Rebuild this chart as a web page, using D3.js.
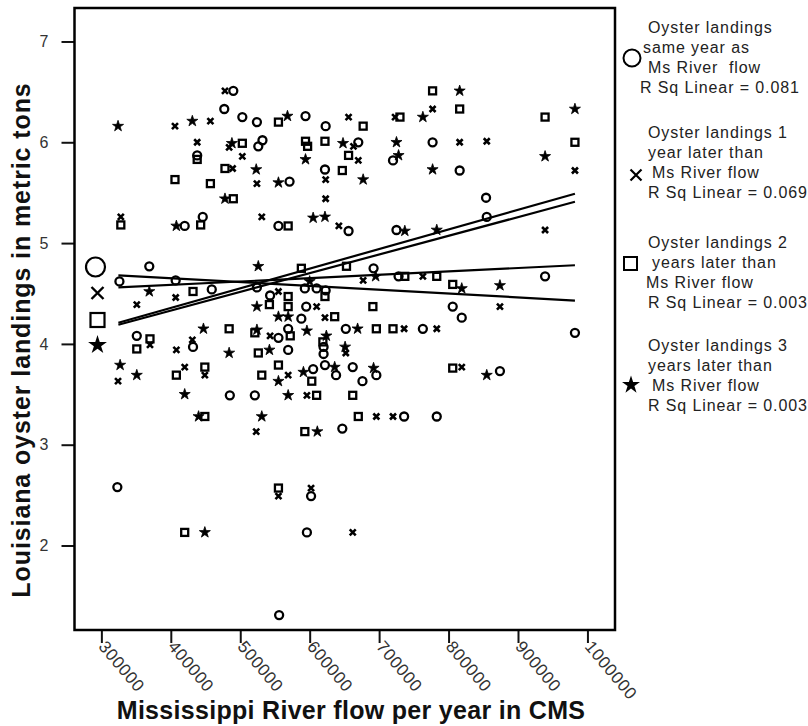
<!DOCTYPE html>
<html>
<head>
<meta charset="utf-8">
<script src="https://cdn.jsdelivr.net/npm/d3@7"></script>
<style>
  body { margin: 0; background: #fff; }
  svg { font-family: "Liberation Sans", Arial, sans-serif; }
</style>
</head>
<body>
<svg id="chart" width="808" height="726"></svg>
<script>
// flow (CMS), landings (metric tons, log scale as printed)
var sameYear = [[490000,6.51],[477000,6.33],[503000,6.25],[524000,6.20],[594000,6.26],[623000,6.16],[438000,5.87],[526000,5.96],[532000,6.02],[571000,5.61],[622000,5.73],[670000,6.00],[720000,5.82],[777000,6.00],[816000,5.72],[854000,5.45],[855000,5.26],[446000,5.26],[420000,5.17],[555000,5.17],[656000,5.12],[725000,5.13],[369000,4.77],[407000,4.63],[459000,4.54],[524000,4.56],[593000,4.55],[610000,4.55],[623000,4.53],[543000,4.48],[595000,4.37],[588000,4.25],[569000,4.15],[555000,4.06],[351000,4.08],[432000,3.97],[569000,3.94],[620000,3.97],[620000,3.90],[605000,3.75],[622000,3.79],[638000,3.69],[485000,3.49],[521000,3.49],[692000,4.75],[728000,4.67],[939000,4.67],[806000,4.37],[819000,4.26],[982000,4.11],[652000,4.15],[763000,4.15],[662000,3.77],[696000,3.69],[676000,3.63],[874000,3.73],[736000,3.28],[783000,3.28],[647000,3.16],[323000,2.58],[602000,2.49],[596000,2.13],[556000,1.31],[326000,4.62]];

var oneYearLater = [[478000,6.51],[406000,6.16],[457000,6.21],[438000,6.00],[484000,5.95],[503000,5.86],[489000,5.74],[524000,5.59],[623000,5.63],[623000,5.44],[656000,6.25],[663000,5.96],[670000,5.82],[723000,6.25],[777000,6.33],[816000,6.00],[855000,6.01],[982000,5.72],[328000,5.26],[531000,5.26],[642000,5.17],[939000,5.13],[351000,4.39],[407000,4.46],[555000,4.52],[610000,4.37],[622000,4.26],[543000,4.08],[370000,3.99],[431000,4.04],[408000,3.94],[324000,3.63],[420000,3.77],[449000,3.69],[569000,3.69],[596000,3.49],[677000,4.63],[763000,4.67],[874000,4.37],[736000,4.15],[783000,4.15],[652000,3.91],[819000,3.77],[696000,3.28],[720000,3.28],[523000,3.13],[555000,2.49],[602000,2.57],[662000,2.13]];

var twoYearsLater = [[555000,6.20],[438000,5.83],[503000,5.99],[594000,6.01],[597000,5.96],[622000,6.01],[478000,5.74],[406000,5.63],[457000,5.59],[490000,5.44],[647000,5.72],[677000,6.16],[656000,5.87],[730000,6.25],[777000,6.51],[816000,6.33],[939000,6.25],[982000,6.00],[328000,5.18],[443000,5.18],[569000,5.17],[432000,4.52],[588000,4.75],[622000,4.47],[542000,4.39],[569000,4.47],[569000,4.37],[636000,4.27],[484000,4.15],[521000,4.11],[572000,4.08],[370000,4.05],[351000,3.95],[526000,3.91],[619000,4.02],[408000,3.69],[449000,3.77],[531000,3.69],[555000,3.79],[603000,3.63],[610000,3.49],[449000,3.28],[593000,3.13],[653000,4.77],[737000,4.67],[783000,4.67],[806000,4.59],[691000,4.37],[696000,4.15],[720000,4.15],[806000,3.76],[662000,3.49],[670000,3.28],[555000,2.57],[420000,2.13]];

var threeYearsLater = [[324000,6.16],[431000,6.21],[568000,6.26],[488000,5.99],[594000,5.83],[523000,5.73],[555000,5.60],[478000,5.44],[605000,5.25],[622000,5.26],[648000,5.99],[677000,5.63],[763000,6.25],[816000,6.51],[728000,5.87],[777000,5.73],[982000,6.33],[939000,5.86],[725000,6.00],[408000,5.17],[737000,5.12],[783000,5.13],[369000,4.52],[526000,4.77],[600000,4.62],[524000,4.37],[555000,4.27],[569000,4.27],[447000,4.15],[524000,4.14],[596000,4.13],[624000,4.08],[484000,3.91],[542000,3.94],[327000,3.79],[351000,3.69],[555000,3.63],[591000,3.72],[636000,3.77],[420000,3.50],[569000,3.49],[440000,3.28],[531000,3.28],[611000,3.13],[695000,4.67],[819000,4.55],[874000,4.58],[669000,4.15],[651000,3.97],[692000,3.76],[855000,3.69],[449000,2.13]];

// fit lines: landings at the first and last flow
var fitFlow = [324500, 982000];
var fitSameYear = [4.21, 5.49];
var fitOneYear = [4.19, 5.41];
var fitTwoYears = [4.68, 4.43];
var fitThreeYears = [4.56, 4.78];

var xTicks = [300000, 400000, 500000, 600000, 700000, 800000, 900000, 1000000];
var yTicks = [2, 3, 4, 5, 6, 7];

var legendText = [
  ["Oyster landings", "same year as", "Ms River  flow", "R Sq Linear = 0.081"],
  ["Oyster landings 1", "year later than", "Ms River flow", "R Sq Linear = 0.069"],
  ["Oyster landings 2", "years later than", "Ms River flow", "R Sq Linear = 0.003"],
  ["Oyster landings 3", "years later than", "Ms River flow", "R Sq Linear = 0.003"]
];

var svg = d3.select("#chart"),
    margin = {top: 8, right: 193, bottom: 96, left: 74.5},
    width = +svg.attr("width") - margin.left - margin.right,
    height = +svg.attr("height") - margin.top - margin.bottom;

var x = d3.scaleLinear().domain([261300, 1039700]).range([0, width]),
    y = d3.scaleLinear().domain([1.162, 7.332]).range([height, 0]);

var g = svg.append("g")
    .attr("transform", "translate(" + margin.left + "," + margin.top + ")");

// axes
var yAxis = g.append("g")
    .call(d3.axisLeft(y).tickValues(yTicks).tickSize(13).tickPadding(13).tickFormat(d3.format("d")));
yAxis.select(".domain").remove();
yAxis.selectAll("line").attr("stroke", "#111").attr("stroke-width", 2);
yAxis.selectAll("text").attr("font-size", 16).attr("fill", "#333").attr("font-family", null);

var xAxis = g.append("g")
    .attr("transform", "translate(0," + height + ")")
    .call(d3.axisBottom(x).tickValues(xTicks).tickSize(13).tickFormat(d3.format("d")));
xAxis.select(".domain").remove();
xAxis.selectAll("line").attr("stroke", "#111").attr("stroke-width", 2);
xAxis.selectAll("text")
    .attr("font-size", 17)
    .attr("letter-spacing", 0.6)
    .attr("fill", "#333")
    .attr("font-family", null)
    .attr("text-anchor", "start")
    .attr("dy", null)
    .attr("y", 0)
    .attr("transform", "translate(-4,17) rotate(50)");

// frame
g.append("rect")
    .attr("width", width)
    .attr("height", height)
    .attr("fill", "none")
    .attr("stroke", "#000")
    .attr("stroke-width", 2.5);

// fit lines
[fitSameYear, fitOneYear, fitTwoYears, fitThreeYears].forEach(function(f) {
  g.append("line")
      .attr("x1", x(fitFlow[0])).attr("y1", y(f[0]))
      .attr("x2", x(fitFlow[1])).attr("y2", y(f[1]))
      .attr("stroke", "#000")
      .attr("stroke-width", 2.2);
});

// markers
var star = d3.symbol().type(d3.symbolStar);

g.selectAll(".pt-circle")
  .data(sameYear)
  .enter().append("circle")
    .attr("class", "pt-circle")
    .attr("cx", function(d) { return x(d[0]); })
    .attr("cy", function(d) { return y(d[1]); })
    .attr("r", 4)
    .attr("fill", "none")
    .attr("stroke", "#000")
    .attr("stroke-width", 2.3);

g.selectAll(".pt-cross")
  .data(oneYearLater)
  .enter().append("path")
    .attr("class", "pt-cross")
    .attr("transform", function(d) { return "translate(" + x(d[0]) + "," + y(d[1]) + ")"; })
    .attr("d", "M-3,-3L3,3M3,-3L-3,3")
    .attr("stroke", "#000")
    .attr("stroke-width", 2.6);

g.selectAll(".pt-square")
  .data(twoYearsLater)
  .enter().append("rect")
    .attr("class", "pt-square")
    .attr("x", function(d) { return x(d[0]) - 3.5; })
    .attr("y", function(d) { return y(d[1]) - 3.5; })
    .attr("width", 7)
    .attr("height", 7)
    .attr("fill", "none")
    .attr("stroke", "#000")
    .attr("stroke-width", 2.3);

g.selectAll(".pt-star")
  .data(threeYearsLater)
  .enter().append("path")
    .attr("class", "pt-star")
    .attr("transform", function(d) { return "translate(" + x(d[0]) + "," + y(d[1]) + ")"; })
    .attr("d", star.size(38))
    .attr("fill", "#000")
    .attr("stroke", "#000")
    .attr("stroke-width", 0.8);

// line markers at the left of the fits
var key = g.append("g").attr("transform", "translate(21,0)");
key.append("circle").attr("cx", 0).attr("cy", 259).attr("r", 9.5)
    .attr("fill", "none").attr("stroke", "#000").attr("stroke-width", 2.2);
key.append("path").attr("transform", "translate(2,285)").attr("d", "M-6,-6L6,6M6,-6L-6,6")
    .attr("stroke", "#000").attr("stroke-width", 2.4);
key.append("rect").attr("x", -5).attr("y", 305).attr("width", 14).attr("height", 14)
    .attr("fill", "none").attr("stroke", "#000").attr("stroke-width", 2.2);
key.append("path").attr("transform", "translate(2,337)").attr("d", d3.symbol().type(d3.symbolStar).size(110))
    .attr("fill", "#000");

// legend on the right
var legend = svg.append("g").attr("transform", "translate(615,0)");
var groupTop = [33, 138, 248, 351];
var lineIndent = [[33, 28, 33, 25], [33, 33, 37, 33], [33, 37, 31, 33], [33, 33, 37, 33]];

legendText.forEach(function(lines, i) {
  lines.forEach(function(t, j) {
    legend.append("text")
        .attr("x", lineIndent[i][j])
        .attr("y", groupTop[i] + j * 20)
        .attr("font-size", 16)
        .attr("letter-spacing", 0.9)
        .attr("fill", "#222")
        .attr("xml:space", "preserve")
        .text(t);
  });
});

legend.append("circle").attr("cx", 17).attr("cy", 58).attr("r", 8.5)
    .attr("fill", "none").attr("stroke", "#000").attr("stroke-width", 2);
legend.append("path").attr("transform", "translate(21,175)").attr("d", "M-5.5,-5.5L5.5,5.5M5.5,-5.5L-5.5,5.5")
    .attr("stroke", "#000").attr("stroke-width", 2.2);
legend.append("rect").attr("x", 9).attr("y", 257).attr("width", 13).attr("height", 13)
    .attr("fill", "none").attr("stroke", "#000").attr("stroke-width", 2);
legend.append("path").attr("transform", "translate(16,385)").attr("d", d3.symbol().type(d3.symbolStar).size(100))
    .attr("fill", "#000");

// axis titles
svg.append("text")
    .attr("transform", "translate(30,340) rotate(-90)")
    .attr("text-anchor", "middle")
    .attr("font-size", 25)
    .attr("letter-spacing", 0.9)
    .attr("font-weight", "bold")
    .attr("fill", "#111")
    .text("Louisiana oyster landings in metric tons");

svg.append("text")
    .attr("x", 351)
    .attr("y", 719)
    .attr("text-anchor", "middle")
    .attr("font-size", 25)
    .attr("letter-spacing", 0.3)
    .attr("font-weight", "bold")
    .attr("fill", "#111")
    .text("Mississippi River flow per year in CMS");
</script>
</body>
</html>
